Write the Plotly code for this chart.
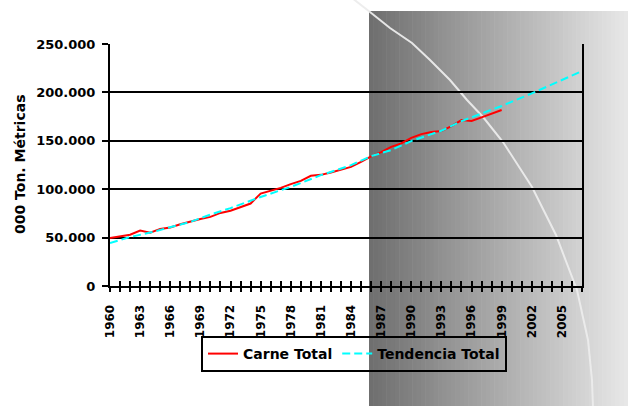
import plotly.graph_objects as go

# Meat production series (thousand metric tons)
years = list(range(1960, 2000))
carne_total = [
    49500, 51000, 53000, 57300, 55000, 59000, 60500, 63800, 66900, 69300,
    71400, 75500, 77800, 81200, 85200, 95500, 98300, 101400, 105200, 108600,
    113800, 114800, 117300, 120400, 123100, 128300, 134000, 138300, 143800, 147300,
    153100, 156900, 159000, 160000, 165200, 171400, 170400, 174200, 177600, 181800,
]

# Trend line sampled at selected years
trend_years = [1960, 1962, 1964, 1966, 1968, 1970, 1972, 1975, 1978, 1981, 1984,
               1986, 1988, 1990, 1993, 1995, 1997, 1999, 2002, 2005, 2007]
trend_total = [44400, 50600, 55200, 60400, 66200, 73800, 80500, 92000, 102400, 114500, 124800,
               134200, 140400, 149700, 160400, 170400, 178400, 186000, 199000, 213000, 222000]

tick_years = list(range(1960, 2006, 3))
tick_text = [str(y) for y in tick_years]

FONT = "DejaVu Sans"

# Page geometry (pixels)
W, H = 628, 406
L, R, T, B = 110, 46, 44, 120
PW, PH = W - L - R, H - T - B


def px_x(px):
    return (px - L) / PW


def px_y(py):
    return (T + PH - py) / PH


fig = go.Figure()

fig.add_trace(go.Scatter(
    x=years, y=carne_total, mode="lines", name="Carne Total",
    line=dict(color="#ff0000", width=2),
))
fig.add_trace(go.Scatter(
    x=trend_years, y=trend_total, mode="lines", name="Tendencia Total",
    line=dict(color="#00ffff", width=2, dash="8px,4px"),
))

# Grey gradient panel behind the right part of the chart
shapes = []
g_left, g_right, g_top = 369, 628, 11
n_strips = 60
step = (g_right - g_left) / n_strips
for i in range(n_strips):
    x0 = g_left + i * step
    x1 = x0 + step + 0.6
    t = (i + 0.5) / n_strips
    v = int(round(110 + (232 - 110) * t))
    shapes.append(dict(
        type="rect", xref="paper", yref="paper",
        x0=px_x(x0), x1=px_x(x1), y0=px_y(H + 2), y1=px_y(g_top),
        fillcolor=f"rgb({v},{v},{v})", line=dict(width=0), layer="below",
    ))

# Light curved stroke across the panel
arc_pts = [(352, -2), (370, 12), (390, 28), (412, 43), (430, 60), (450, 80), (467, 100),
           (483, 117), (503, 142), (532, 187), (556, 235), (577, 290), (588, 340),
           (592, 380), (593, 408)]
path = "M " + " L ".join(f"{px_x(x):.4f},{px_y(y):.4f}" for x, y in arc_pts)
shapes.append(dict(
    type="path", xref="paper", yref="paper", path=path,
    line=dict(color="rgba(236,236,236,0.95)", width=2), layer="below",
))

fig.update_layout(
    width=W, height=H,
    margin=dict(l=L, r=R, t=T, b=B, pad=0),
    paper_bgcolor="white",
    plot_bgcolor="rgba(0,0,0,0)",
    separators=",.",
    font=dict(family=FONT, size=13, color="black", weight="bold"),
    shapes=shapes,
    showlegend=True,
    legend=dict(
        orientation="h",
        x=px_x(201), y=px_y(336), xanchor="left", yanchor="top",
        bgcolor="rgba(0,0,0,0)", bordercolor="black", borderwidth=2,
        font=dict(family=FONT, size=14, color="black", weight="bold"),
        itemwidth=30,
    ),
    xaxis=dict(
        range=[1960, 2007],
        showgrid=False, zeroline=False,
        showline=True, linecolor="black", linewidth=2,
        tickmode="array", tickvals=tick_years, ticktext=tick_text,
        ticks="outside", ticklen=4, tickwidth=2, tickcolor="black",
        minor=dict(ticks="outside", dtick=1, tick0=1960, ticklen=4,
                   tickwidth=2, tickcolor="black", showgrid=False),
        tickangle=-90,
        tickfont=dict(family=FONT, size=12, color="black", weight="bold"),
        ticklabelstandoff=8,
    ),
    xaxis2=dict(
        range=[1960, 2007], overlaying="x", side="bottom", anchor="y",
        showgrid=False, zeroline=False, showline=False,
        tickmode="linear", tick0=1960, dtick=1,
        ticks="inside", ticklen=5, tickwidth=2, tickcolor="black",
        showticklabels=False,
    ),
    yaxis=dict(
        range=[0, 250000],
        tickmode="linear", tick0=0, dtick=50000,
        tickformat=",d",
        showgrid=True, gridcolor="black", gridwidth=2,
        zeroline=False,
        showline=True, linecolor="black", linewidth=2, mirror=True,
        ticks="outside", ticklen=6, tickwidth=2, tickcolor="black",
        tickfont=dict(family=FONT, size=13, color="black", weight="bold"),
        ticklabelstandoff=4,
    ),
    annotations=[dict(
        text="000 Ton. Métricas", xref="paper", yref="paper",
        x=px_x(20), y=0.5, xanchor="center", yanchor="middle",
        textangle=-90, showarrow=False,
        font=dict(family=FONT, size=14, color="black", weight="bold"),
    )],
)

# An invisible trace keeps the overlay axis (cross tick marks) rendered
fig.add_trace(go.Scatter(x=[1960], y=[0], xaxis="x2", mode="markers",
                         marker=dict(opacity=0), showlegend=False, hoverinfo="skip"))

fig.write_html("out.html")
